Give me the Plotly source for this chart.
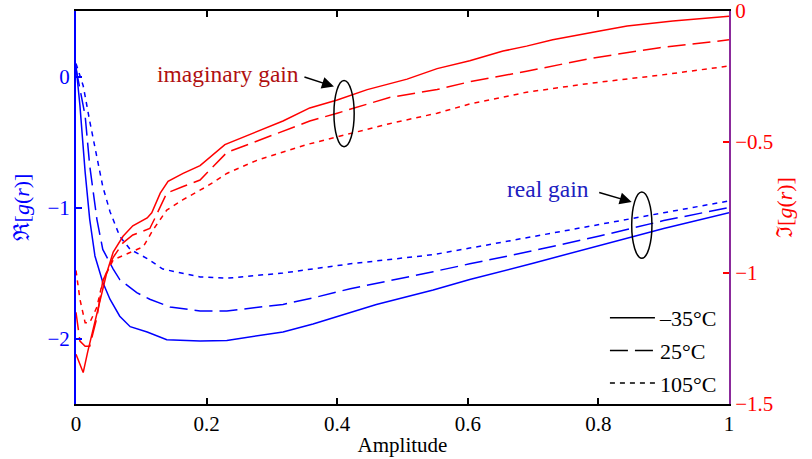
import plotly.graph_objects as go

# ---------------- data ----------------
# Real gain (left axis)
x_re_m35 = [0, 0.006, 0.014, 0.021, 0.029, 0.041, 0.052, 0.067, 0.083, 0.109, 0.139, 0.19, 0.231,
            0.317, 0.363, 0.42, 0.46, 0.547, 0.603, 0.7, 0.8, 0.9, 1.0]
re_m35 = [0.08, -0.22, -0.73, -1.09, -1.37, -1.57, -1.70, -1.83, -1.91, -1.95, -2.01, -2.02, -2.015,
          -1.95, -1.89, -1.80, -1.74, -1.63, -1.55, -1.425, -1.295, -1.16, -1.04]

x_re_25 = [0, 0.014, 0.021, 0.032, 0.041, 0.057, 0.067, 0.093, 0.113, 0.144, 0.19, 0.231, 0.317,
           0.363, 0.42, 0.46, 0.547, 0.603, 0.7, 0.8, 0.9, 1.0]
re_25 = [0.06, -0.30, -0.68, -1.09, -1.32, -1.47, -1.55, -1.65, -1.70, -1.76, -1.79, -1.79, -1.74,
         -1.69, -1.62, -1.58, -1.49, -1.43, -1.33, -1.22, -1.10, -1.0]

x_re_105 = [0, 0.011, 0.021, 0.032, 0.041, 0.052, 0.067, 0.083, 0.109, 0.133, 0.19, 0.231, 0.317,
            0.42, 0.547, 0.603, 0.7, 0.8, 0.9, 1.0]
re_105 = [0.1, -0.07, -0.34, -0.61, -0.84, -1.03, -1.22, -1.32, -1.39, -1.47, -1.53, -1.54, -1.50,
          -1.43, -1.36, -1.31, -1.22, -1.13, -1.04, -0.95]

# Imaginary gain (right axis)
x_im_m35 = [0, 0.011, 0.018, 0.032, 0.047, 0.057, 0.072, 0.087, 0.109, 0.116, 0.129, 0.141, 0.164,
            0.19, 0.228, 0.317, 0.358, 0.4, 0.446, 0.507, 0.553, 0.603, 0.654, 0.69, 0.73, 0.802,
            0.844, 0.914, 1.0]
im_m35 = [-1.31, -1.38, -1.30, -1.15, -1.00, -0.92, -0.86, -0.82, -0.79, -0.77, -0.695, -0.65, -0.62,
          -0.59, -0.51, -0.42, -0.37, -0.34, -0.30, -0.26, -0.22, -0.19, -0.153, -0.134, -0.11, -0.076,
          -0.057, -0.038, -0.02]

x_im_25 = [0, 0.006, 0.014, 0.021, 0.032, 0.041, 0.057, 0.072, 0.087, 0.113, 0.121, 0.139, 0.164,
           0.19, 0.231, 0.317, 0.358, 0.4, 0.48, 0.553, 0.603, 0.69, 0.79, 0.894, 1.0]
im_25 = [-1.15, -1.26, -1.28, -1.28, -1.17, -1.03, -0.94, -0.885, -0.855, -0.83, -0.79, -0.695, -0.67,
         -0.645, -0.54, -0.46, -0.42, -0.39, -0.33, -0.30, -0.27, -0.23, -0.18, -0.14, -0.11]

x_im_105 = [0, 0.006, 0.014, 0.021, 0.032, 0.041, 0.057, 0.083, 0.103, 0.118, 0.139, 0.164, 0.2,
            0.231, 0.277, 0.353, 0.4, 0.48, 0.553, 0.603, 0.69, 0.79, 0.894, 1.0]
im_105 = [-0.99, -1.10, -1.19, -1.19, -1.13, -1.03, -0.95, -0.92, -0.90, -0.835, -0.76, -0.72, -0.67,
          -0.62, -0.57, -0.51, -0.48, -0.43, -0.39, -0.355, -0.31, -0.275, -0.245, -0.21]

legend_labels = ["–35°C", "25°C", "105°C"]
x_ticks = [0, 0.2, 0.4, 0.6, 0.8, 1.0]
x_ticktext = ["0", "0.2", "0.4", "0.6", "0.8", "1"]
yl_ticks = [-2, -1, 0]
yl_ticktext = ["−2", "−1", "0"]
yr_ticks = [-1.5, -1, -0.5, 0]
yr_ticktext = ["−1.5", "−1", "−0.5", "0"]

# ---------------- styles ----------------
FONT = "Liberation Serif"
BLUE = "#0000ff"
RED = "#ff0000"
dashes = ["solid", "18px,7px", "5px,5px"]
LW = 1.5

fig = go.Figure()

re_sets = [(x_re_m35, re_m35), (x_re_25, re_25), (x_re_105, re_105)]
im_sets = [(x_im_m35, im_m35), (x_im_25, im_25), (x_im_105, im_105)]

for (xs, ys), d in zip(re_sets, dashes):
    fig.add_trace(go.Scatter(x=xs, y=ys, mode="lines", yaxis="y",
                             line=dict(color=BLUE, width=LW, dash=d), showlegend=False))
for (xs, ys), d in zip(im_sets, dashes):
    fig.add_trace(go.Scatter(x=xs, y=ys, mode="lines", yaxis="y2",
                             line=dict(color=RED, width=LW, dash=d), showlegend=False))

# legend entries (black)
for i, (lab, d) in enumerate(zip(legend_labels, dashes)):
    fig.add_trace(go.Scatter(x=[None], y=[None], mode="lines", name=lab,
                             legendgroup=f"g{i}",
                             line=dict(color="black", width=LW, dash=d)))

# ellipses
fig.add_shape(type="circle", xref="x", yref="y", x0=0.395, x1=0.426, y0=-0.536, y1=-0.03,
              line=dict(color="black", width=1.5))
fig.add_shape(type="circle", xref="x", yref="y", x0=0.851, x1=0.882, y0=-1.387, y1=-0.881,
              line=dict(color="black", width=1.5))

# annotations
fig.add_annotation(x=0.233, y=0.02, xref="x", yref="y", text="imaginary gain", showarrow=False,
                   font=dict(family=FONT, size=23.5, color="#b01010"))
fig.add_annotation(x=0.723, y=-0.858, xref="x", yref="y", text="real gain", showarrow=False,
                   font=dict(family=FONT, size=23.5, color="#2020c0"))
fig.add_annotation(x=0.395, y=-0.077, xref="x", yref="y", text="", showarrow=True,
                   ax=-31, ay=-10, arrowhead=2, arrowsize=1.6, arrowwidth=1.5, arrowcolor="black")
fig.add_annotation(x=0.851, y=-0.958, xref="x", yref="y", text="", showarrow=True,
                   ax=-34, ay=-10, arrowhead=2, arrowsize=1.6, arrowwidth=1.5, arrowcolor="black")

fig.update_layout(
    width=812, height=459,
    margin=dict(l=76, r=83, t=11, b=55, autoexpand=False),
    paper_bgcolor="white", plot_bgcolor="white",
    font=dict(family=FONT, size=21, color="black"),
    showlegend=True,
    legend=dict(x=0.81, y=0.0, xanchor="left", yanchor="bottom",
                bgcolor="rgba(255,255,255,0)", borderwidth=0, itemwidth=45,
                font=dict(family=FONT, size=22, color="black"),
                traceorder="grouped", tracegroupgap=1),
    xaxis=dict(range=[0, 1], tickvals=x_ticks, ticktext=x_ticktext,
               showline=True, linecolor="black", linewidth=1.5, mirror="ticks",
               ticks="inside", ticklen=6, tickwidth=1.5, tickcolor="black",
               showgrid=False, zeroline=False, ticklabeloverflow="allow",
               tickfont=dict(family=FONT, size=21, color="black"),
               title=dict(text="Amplitude", font=dict(family=FONT, size=21, color="black"), standoff=2)),
    yaxis=dict(range=[-2.5, 0.5], tickvals=yl_ticks, ticktext=yl_ticktext,
               showline=True, linecolor=BLUE, linewidth=2, ticks="inside", ticklen=6,
               tickwidth=1.5, tickcolor=BLUE, showgrid=False, zeroline=False,
               ticklabeloverflow="allow",
               tickfont=dict(family=FONT, size=21, color=BLUE),
               title=dict(text="ℜ[<i>g</i>(<i>r</i>)]", font=dict(family=FONT, size=22, color=BLUE),
                          standoff=12)),
    yaxis2=dict(range=[-1.5, 0], tickvals=yr_ticks, ticktext=yr_ticktext, overlaying="y",
                side="right", showline=True, linecolor="#8b2a9b", linewidth=2, ticks="inside",
                ticklen=6, tickwidth=1.5, tickcolor=RED, showgrid=False, zeroline=False,
                ticklabeloverflow="allow",
                tickfont=dict(family=FONT, size=21, color=RED),
                title=dict(text="ℑ[<i>g</i>(<i>r</i>)]", font=dict(family=FONT, size=22, color=RED),
                           standoff=4)),
)

fig.write_html("out.html")
